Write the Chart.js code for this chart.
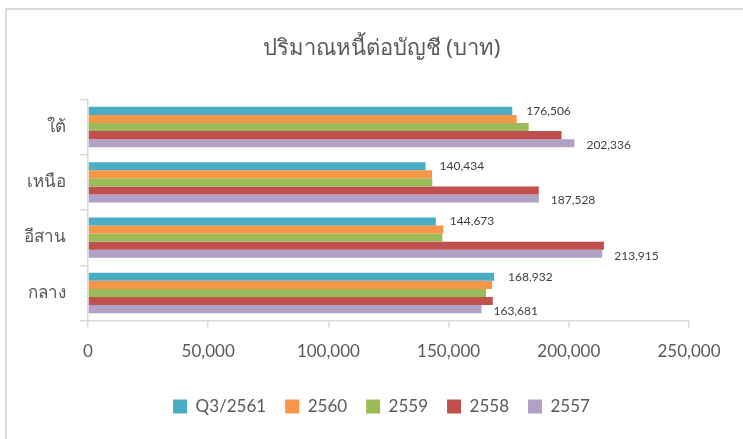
<!DOCTYPE html>
<html>
<head>
<meta charset="utf-8">
<script src="https://cdn.jsdelivr.net/npm/chart.js@4/dist/chart.umd.min.js"></script>
<style>
  html, body { margin: 0; padding: 0; background: #fff; }
  #wrap { position: relative; width: 743px; height: 439px; overflow: hidden; }
  #frame { position: absolute; left: 5px; top: 8px; width: 800px; height: 500px;
           border-left: 2px solid #dcdcdc; border-top: 2px solid #dcdcdc; pointer-events: none; }
  canvas { position: absolute; left: 0; top: 0; }
</style>
</head>
<body>
<div id="wrap">
  <canvas id="c" width="743" height="439"></canvas>
  <div id="frame"></div>
</div>
<script>
const title = 'ปริมาณหนี้ต่อบัญชี (บาท)';
const regions = ['ใต้', 'เหนือ', 'อีสาน', 'กลาง'];
const seriesNames = ['Q3/2561', '2560', '2559', '2558', '2557'];
const valuesQ3_2561 = [176506, 140434, 144673, 168932];
const values2560 = [178300, 143100, 147800, 168100];
const values2559 = [183300, 143200, 147400, 165600];
const values2558 = [197000, 187500, 214600, 168400];
const values2557 = [202336, 187528, 213915, 163681];
const xTicks = [0, 50000, 100000, 150000, 200000, 250000];
const colors = ['#4BACC6', '#F79646', '#9BBB59', '#C0504D', '#B2A1C7'];
const labelledSeries = [0, 4];

const allValues = [valuesQ3_2561, values2560, values2559, values2558, values2557];
const numFont = 'Lato, "Open Sans", "Noto Sans", sans-serif';
const thaiFont = 'Tahoma, "Noto Sans", "Open Sans", sans-serif';

const valueLabels = {
  id: 'valueLabels',
  afterDatasetsDraw(chart) {
    const ctx = chart.ctx;
    ctx.save();
    ctx.font = '12px ' + numFont;
    ctx.fillStyle = '#404040';
    ctx.textAlign = 'left';
    ctx.textBaseline = 'middle';
    labelledSeries.forEach(di => {
      const meta = chart.getDatasetMeta(di);
      meta.data.forEach((el, i) => {
        const v = chart.data.datasets[di].data[i];
        const off = di === 0 ? 14 : 12;
        const dy = di === 0 ? 0 : 2;
        ctx.fillText(v.toLocaleString('en-US'), el.x + off, el.y + dy);
      });
    });
    ctx.restore();
  }
};

// centre title and legend over the plot area, as in the reference
const centreBlocks = {
  id: 'centreBlocks',
  afterLayout(chart) {
    const shift = 37;
    [chart.titleBlock, chart.legend].forEach(b => {
      if (b) { b.left += shift; b.right += shift; }
    });
  }
};

new Chart(document.getElementById('c'), {
  type: 'bar',
  data: {
    labels: regions,
    datasets: seriesNames.map((n, i) => ({
      label: n,
      data: allValues[i],
      backgroundColor: colors[i],
      borderWidth: 0,
      categoryPercentage: 0.73,
      barPercentage: 1.0
    }))
  },
  options: {
    indexAxis: 'y',
    responsive: false,
    animation: false,
    devicePixelRatio: 1,
    layout: { padding: { left: 0, right: 54, top: 0, bottom: 14 } },
    plugins: {
      title: {
        display: true,
        text: title,
        color: '#595959',
        font: { family: thaiFont, size: 22, weight: 'normal', lineHeight: 1.2 },
        padding: { top: 36, bottom: 37 }
      },
      legend: {
        position: 'bottom',
        labels: {
          color: '#595959',
          font: { family: numFont, size: 17 },
          boxWidth: 14,
          boxHeight: 14,
          padding: 19
        }
      },
      tooltip: { enabled: false }
    },
    scales: {
      x: {
        min: 0,
        max: 250000,
        afterBuildTicks(scale) { scale.ticks = xTicks.map(v => ({ value: v })); },
        afterFit(scale) { scale.height += 3; },
        ticks: {
          color: '#595959',
          font: { family: numFont, size: 17 },
          padding: 14,
          maxRotation: 0,
          callback: v => Number(v).toLocaleString('en-US')
        },
        grid: { drawOnChartArea: false, drawTicks: true, tickLength: 7, color: '#d9d9d9', lineWidth: 1.5 },
        border: { display: true, color: '#d9d9d9', width: 1.5 }
      },
      y: {
        afterFit(scale) { scale.width = 88; },
        ticks: {
          color: '#595959',
          font: { family: thaiFont, size: 17 },
          padding: 14
        },
        grid: { drawOnChartArea: false, drawTicks: true, tickLength: 8, color: '#d9d9d9', lineWidth: 1.5, offset: true },
        border: { display: true, color: '#d9d9d9', width: 1.5 }
      }
    }
  },
  plugins: [valueLabels, centreBlocks]
});
</script>
</body>
</html>
